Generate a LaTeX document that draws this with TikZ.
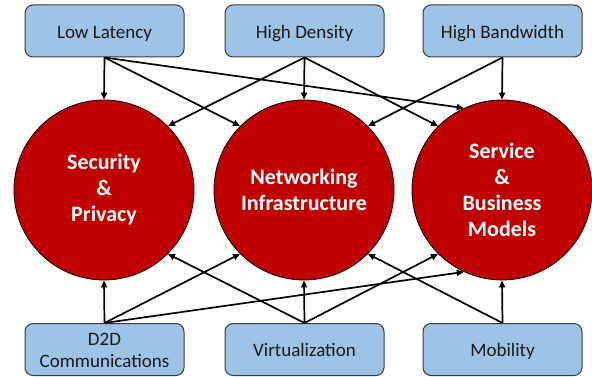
\documentclass[tikz,border=0pt]{standalone}
\usepackage{fontspec}
\setmainfont{Carlito}
\usetikzlibrary{arrows.meta}
\definecolor{boxblue}{HTML}{9DC3E6}
\definecolor{circred}{HTML}{C00000}
\definecolor{boxline}{HTML}{3A3A3A}
\newcommand\boxtxt[1]{\raisebox{-3pt}[\height][\depth]{\begin{tabular}{@{}c@{}}#1\end{tabular}}}
\begin{document}
\begin{tikzpicture}[x=1pt,y=-1pt,
  topbox/.style={draw=boxline,line width=1pt,fill=boxblue,rounded corners=8pt,
    minimum width=159pt,minimum height=52pt,inner sep=0pt,align=center,
    font=\fontsize{19}{22}\selectfont,text=black!90},
  bigcirc/.style={circle,draw=black,line width=0.8pt,fill=circred,minimum size=180pt,
    inner sep=0pt,align=center,text=white,font=\bfseries\fontsize{22}{26}\selectfont},
  arr/.style={-{Triangle[length=7pt,width=6pt]},line width=1.7pt,black}]
\useasboundingbox (0,0) rectangle (592,377);
% top boxes
\node[topbox] (ll) at (104.5,31) {\boxtxt{Low Latency}};
\node[topbox] (hd) at (304.5,31) {\boxtxt{High Density}};
\node[topbox] (hb) at (502.5,31) {\boxtxt{High Bandwidth}};
% bottom boxes
\node[topbox] (d2d) at (104.5,349.5) {\boxtxt{D2D\\Communications}};
\node[topbox] (vir) at (304.5,349.5) {\boxtxt{Virtualization}};
\node[topbox] (mob) at (502.5,349.5) {\boxtxt{Mobility}};
% circles
\node[bigcirc] (sec) at (104,190) {Security\\\&\\Privacy};
\node[bigcirc] (net) at (304,190) {Networking\\Infrastructure};
\node[bigcirc] (svc) at (502,190) {Service\\\&\\Business\\Models};
% top arrows
\draw[arr] (ll.south) -- (sec.north);
\draw[arr] (ll.south) -- (net.135);
\draw[arr] (ll.south) -- (svc.115);
\draw[arr] (hd.south) -- (sec.45);
\draw[arr] (hd.south) -- (net.north);
\draw[arr] (hd.south) -- (svc.135);
\draw[arr] (hb.south) -- (net.45);
\draw[arr] (hb.south) -- (svc.north);
% bottom arrows
\draw[arr] (d2d.north) -- (sec.south);
\draw[arr] (d2d.north) -- (net.225);
\draw[arr] (d2d.north) -- (svc.245);
\draw[arr] (vir.north) -- (sec.315);
\draw[arr] (vir.north) -- (net.south);
\draw[arr] (vir.north) -- (svc.225);
\draw[arr] (mob.north) -- (net.315);
\draw[arr] (mob.north) -- (svc.south);
\end{tikzpicture}
\end{document}
